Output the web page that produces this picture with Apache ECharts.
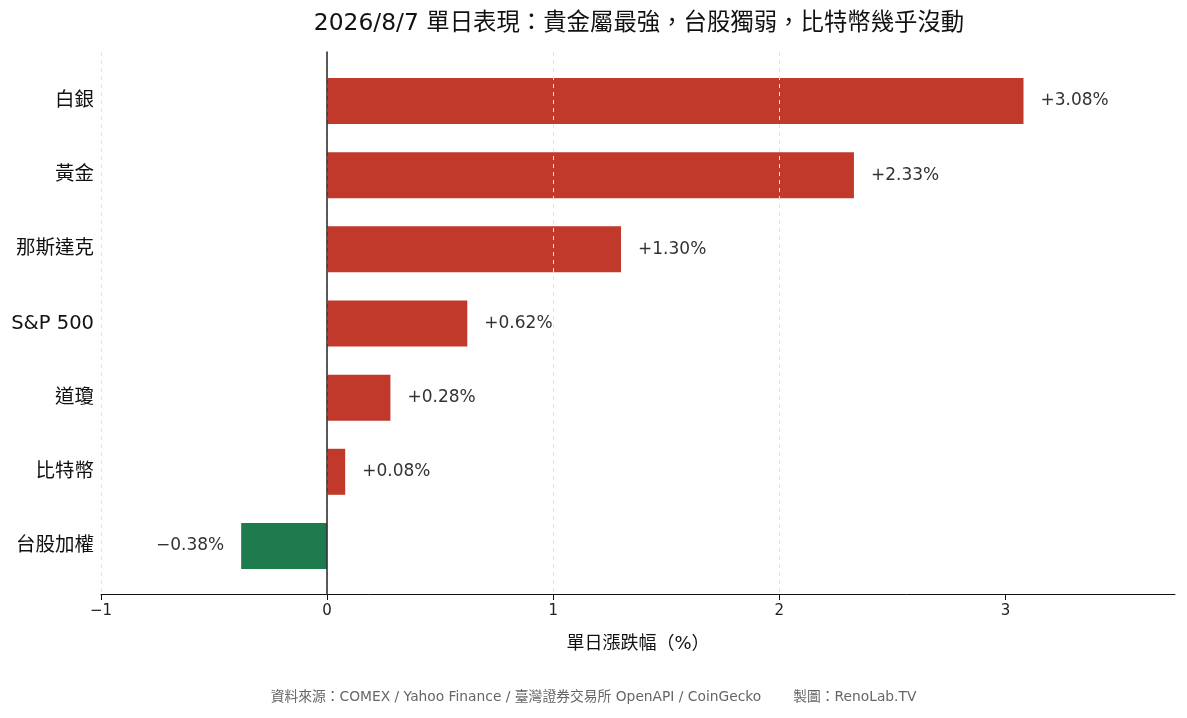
<!DOCTYPE html>
<html>
<head>
<meta charset="utf-8">
<script src="https://cdn.jsdelivr.net/npm/echarts@6/dist/echarts.min.js"></script>
<style>
  html, body { margin: 0; padding: 0; background: #fff; }
  #chart { width: 1187px; height: 718px; }
</style>
</head>
<body>
<div id="chart"></div>
<script>
// 資料
const categories = ['白銀', '黃金', '那斯達克', 'S&P 500', '道瓊', '比特幣', '台股加權'];
const changes = [3.08, 2.33, 1.30, 0.62, 0.28, 0.08, -0.38];
const xTicks = [-1, 0, 1, 2, 3];
const xMin = -1;
const xMax = 3.75;

const titleText = '2026/8/7 單日表現：貴金屬最強，台股獨弱，比特幣幾乎沒動';
const xName = '單日漲跌幅（%）';
const footText = '資料來源：COMEX / Yahoo Finance / 臺灣證券交易所 OpenAPI / CoinGecko　　 製圖：RenoLab.TV';

const FONT = '"DejaVu Sans", "Noto Sans CJK TC", sans-serif';
const UP = '#c0392b';
const DOWN = '#1e7b4e';

const minus = s => s.replace('-', '\u2212');
const pct = v => (v >= 0 ? '+' + v.toFixed(2) : minus(v.toFixed(2))) + '%';

const chart = echarts.init(document.getElementById('chart'), null, {renderer: 'canvas'});

chart.setOption({
    backgroundColor: '#fff',
    textStyle: {fontFamily: FONT},
    animation: false,
    title: {
        text: titleText,
        left: 634,
        top: 7,
        textAlign: 'center',
        textStyle: {fontFamily: FONT, fontSize: 23.4, fontWeight: 'normal', color: '#111'}
    },
    grid: [
        // 外框：x 軸、格線、零線
        {left: 101, right: 12, top: 52, bottom: 124},
        // 長條
        {left: 101, right: 12, top: 64, bottom: 135}
    ],
    xAxis: [
        {
            type: 'value', gridIndex: 0, min: xMin, max: xMax, z: 5,
            name: xName, nameLocation: 'middle', nameGap: 41,
            nameTextStyle: {fontFamily: FONT, fontSize: 18, color: '#111'},
            axisLine: {show: true, onZero: false, lineStyle: {color: '#111', width: 1}},
            axisTick: {show: true, length: 6, customValues: xTicks, lineStyle: {color: '#111'}},
            axisLabel: {
                customValues: xTicks, fontSize: 15, color: '#222', margin: 10,
                formatter: v => minus(String(v))
            },
            splitLine: {
                show: true, showMaxLine: false,
                lineStyle: {color: '#e2e2e2', type: [4, 4], width: 1}
            }
        },
        {
            type: 'value', gridIndex: 1, min: xMin, max: xMax, show: false,
            splitLine: {show: false}
        }
    ],
    yAxis: [
        {
            type: 'value', gridIndex: 0, min: 0, max: 1, z: 6,
            axisLine: {show: true, onZero: true, lineStyle: {color: '#333', width: 1.6}},
            axisTick: {show: false}, axisLabel: {show: false}, splitLine: {show: false}
        },
        {
            type: 'category', gridIndex: 1, data: categories, inverse: true,
            axisLine: {show: false}, axisTick: {show: false},
            axisLabel: {fontSize: 19.5, color: '#111', margin: 7, padding: [3, 0, 0, 0]}
        }
    ],
    series: [{
        type: 'bar',
        xAxisIndex: 1, yAxisIndex: 1,
        barWidth: 46,
        data: changes.map(v => ({
            value: v,
            itemStyle: {color: v >= 0 ? UP : DOWN},
            label: {position: v >= 0 ? 'right' : 'left'}
        })),
        label: {
            show: true, distance: 17, fontSize: 17, color: '#333',
            padding: [3, 0, 0, 0],
            formatter: p => pct(p.value)
        }
    }],
    graphic: [{
        type: 'text', left: 'center', top: 691,
        style: {text: footText, font: '13.8px ' + FONT, fill: '#666'}
    }]
});
</script>
</body>
</html>
